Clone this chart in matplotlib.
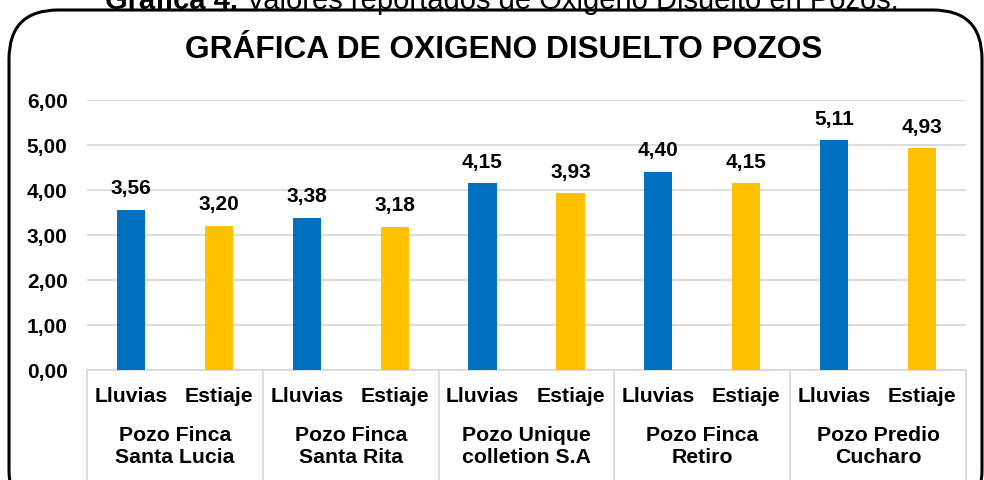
import matplotlib
matplotlib.use("Agg")
import matplotlib.pyplot as plt
from matplotlib.patches import FancyBboxPatch
from matplotlib.lines import Line2D

plt.rcParams['font.family'] = ['Liberation Sans', 'DejaVu Sans']

groups = ["Pozo Finca\nSanta Lucia", "Pozo Finca\nSanta Rita", "Pozo Unique\ncolletion S.A",
          "Pozo Finca\nRetiro", "Pozo Predio\nCucharo"]
seasons = ["Lluvias", "Estiaje"]
lluvias = [3.56, 3.38, 4.15, 4.40, 5.11]
estiaje = [3.20, 3.18, 3.93, 4.15, 4.93]
yticks = [0, 1, 2, 3, 4, 5, 6]

BLUE = "#0070C0"
GOLD = "#FFC000"
GRID = "#D9D9D9"

W, H = 984, 481
fig = plt.figure(figsize=(W / 100, H / 100), dpi=100)

def fx(px):
    return px / W

def fy(py):
    return 1 - py / H

# rounded border
border = FancyBboxPatch((fx(9), fy(520)), fx(973), (520 - 11) / H,
                        boxstyle="round,pad=0,rounding_size=0.05",
                        transform=fig.transFigure, fill=False, ec="black", lw=2.2,
                        mutation_aspect=W / H)
fig.patches.append(border)

# caption (cut at top)
t1 = fig.text(fx(105), fy(9), "Gráfica 4.", fontsize=21, fontweight="bold",
              ha="left", va="baseline")
fig.canvas.draw()
bb = t1.get_window_extent()
fig.text(bb.x1 / W + fx(8), fy(9), "Valores reportados de Oxigeno Disuelto en Pozos.",
         fontsize=21, ha="left", va="baseline")

# title
fig.text(fx(504), fy(50), "GRÁFICA DE OXIGENO DISUELTO POZOS", fontsize=22.8,
         fontweight="bold", ha="center", va="center")

left, right = 87, 966
top, bottom = 101, 371
ax = fig.add_axes([fx(left), 1 - bottom / H, fx(right - left), (bottom - top) / H])

n = len(groups)
xs_l = [2 * i for i in range(n)]
xs_e = [2 * i + 1 for i in range(n)]
bw = 0.32
ax.bar(xs_l, lluvias, width=bw, color=BLUE, zorder=3)
ax.bar(xs_e, estiaje, width=bw, color=GOLD, zorder=3)

for x, v in list(zip(xs_l, lluvias)) + list(zip(xs_e, estiaje)):
    ax.annotate(f"{v:.2f}".replace(".", ","), (x, v), xytext=(0, 9),
                textcoords="offset points", ha="center", va="bottom",
                fontsize=15, fontweight="bold")

ax.set_xlim(-0.5, 2 * n - 0.5)
ax.set_ylim(0, 6)
ax.set_yticks(yticks)
ax.set_yticklabels([f"{t:.2f}".replace(".", ",") for t in yticks], fontsize=15,
                   fontweight="bold")
ax.tick_params(axis="y", length=0, pad=14)
ax.set_xticks([])
ax.grid(axis="y", color=GRID, lw=1.3, zorder=0)
for s in ["top", "right", "left"]:
    ax.spines[s].set_visible(False)
ax.spines["bottom"].set_color(GRID)
ax.spines["bottom"].set_linewidth(1.3)

trans = ax.get_xaxis_transform()
# separators
for b in range(n + 1):
    xb = 2 * b - 0.5
    ax.add_line(Line2D([xb, xb], [0, -1.0], transform=trans, color=GRID, lw=1.3,
                       clip_on=False))

# level 1 labels
y1 = -(397 - bottom) / (bottom - top)
for i in range(n):
    for j, s in enumerate(seasons):
        ax.text(2 * i + j, y1, s, transform=trans, ha="center", va="center",
                fontsize=15.3, fontweight="bold")
# level 2 labels
y2 = -(447 - bottom) / (bottom - top)
for i, g in enumerate(groups):
    ax.text(2 * i + 0.5, y2, g, transform=trans, ha="center", va="center",
            fontsize=15.3, fontweight="bold", linespacing=1.2)

fig.savefig("out.png", dpi=100)
